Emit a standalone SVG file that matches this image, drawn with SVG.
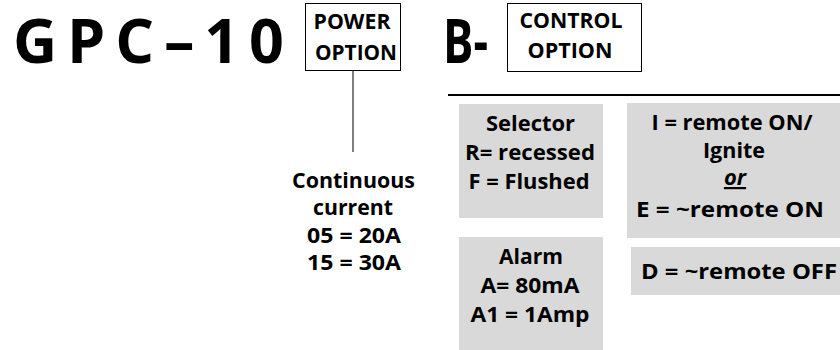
<svg xmlns="http://www.w3.org/2000/svg" width="840" height="350" viewBox="0 0 840 350">
<style>
text{font-family:"Open Sans",Lato,"Liberation Sans",sans-serif;font-weight:bold;fill:#000;text-anchor:middle}
.big{font-size:61px;text-anchor:start}
.lbl{font-size:22px}
.t{font-size:22px}
.frame{fill:#fff;stroke:#000;stroke-width:1}
.gray{fill:#d9d9d9;stroke:none}
</style>
<rect width="840" height="350" fill="#fff"/>
<g id="title">
<text class="big" x="13" y="63" textLength="271" lengthAdjust="spacing">G P C – 1 0</text>
</g>
<g id="power-option">
<rect class="frame" x="305.5" y="3.5" width="95" height="67"/>
<text class="lbl" x="352" y="29" textLength="77" lengthAdjust="spacingAndGlyphs">POWER</text>
<text class="lbl" x="356" y="60" textLength="82" lengthAdjust="spacingAndGlyphs">OPTION</text>
</g>
<g id="b-code">
<text class="big" x="443" y="63" textLength="45" lengthAdjust="spacingAndGlyphs">B-</text>
</g>
<g id="control-option">
<rect class="frame" x="507.5" y="3.5" width="134" height="68"/>
<text class="lbl" x="571" y="28" textLength="103" lengthAdjust="spacingAndGlyphs">CONTROL</text>
<text class="lbl" x="570" y="58" textLength="85" lengthAdjust="spacingAndGlyphs">OPTION</text>
</g>
<g id="connectors">
<line x1="353" y1="71" x2="353" y2="152" stroke="#000" stroke-width="1"/>
<line x1="448" y1="95" x2="840" y2="95" stroke="#000" stroke-width="2"/>
</g>
<g id="continuous-current">
<text class="t" x="353.5" y="188" textLength="123" lengthAdjust="spacingAndGlyphs">Continuous</text>
<text class="t" x="353" y="215" textLength="80" lengthAdjust="spacingAndGlyphs">current</text>
<text class="t" x="354" y="243" textLength="94" lengthAdjust="spacingAndGlyphs">05 = 20A</text>
<text class="t" x="354" y="270" textLength="94" lengthAdjust="spacingAndGlyphs">15 = 30A</text>
</g>
<g id="selector">
<rect class="gray" x="459" y="104" width="144" height="114"/>
<text class="t" x="530.5" y="131" textLength="89" lengthAdjust="spacingAndGlyphs">Selector</text>
<text class="t" x="530" y="160" textLength="130" lengthAdjust="spacingAndGlyphs">R= recessed</text>
<text class="t" x="529" y="189" textLength="121" lengthAdjust="spacingAndGlyphs">F = Flushed</text>
</g>
<g id="alarm">
<rect class="gray" x="459" y="237" width="144" height="113"/>
<text class="t" x="531" y="264" textLength="64" lengthAdjust="spacingAndGlyphs">Alarm</text>
<text class="t" x="530" y="293" textLength="99" lengthAdjust="spacingAndGlyphs">A= 80mA</text>
<text class="t" x="530" y="322" textLength="119" lengthAdjust="spacingAndGlyphs">A1 = 1Amp</text>
</g>
<g id="remote-on">
<rect class="gray" x="627" y="103" width="213" height="135"/>
<text class="t" x="732" y="130" textLength="161" lengthAdjust="spacingAndGlyphs">I = remote ON/</text>
<text class="t" x="734" y="158" textLength="62" lengthAdjust="spacingAndGlyphs">Ignite</text>
<text class="t" x="735" y="185" font-style="italic" text-decoration="underline">or</text>
<text class="t" x="730" y="217" textLength="188" lengthAdjust="spacingAndGlyphs">E = ~remote ON</text>
</g>
<g id="remote-off">
<rect class="gray" x="631" y="247" width="209" height="48"/>
<text class="t" x="739" y="279" textLength="196" lengthAdjust="spacingAndGlyphs">D = ~remote OFF</text>
</g>
</svg>
